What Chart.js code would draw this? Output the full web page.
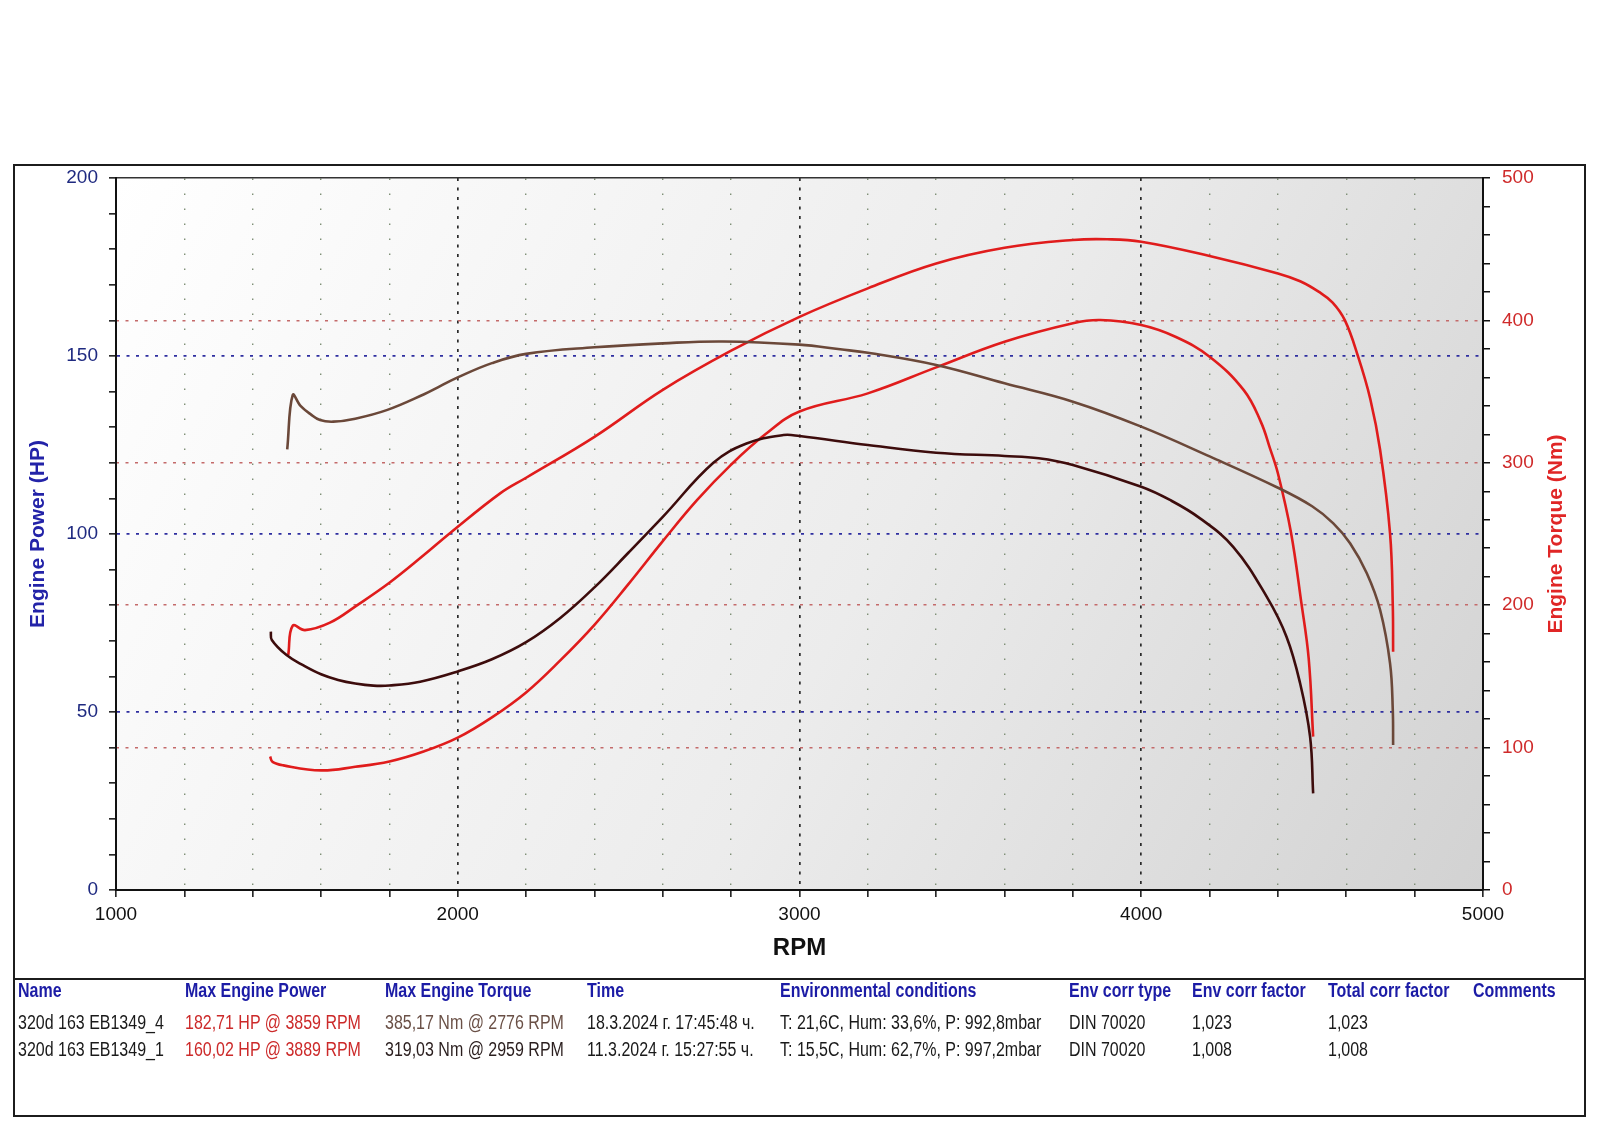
<!DOCTYPE html>
<html>
<head>
<meta charset="utf-8">
<script src="https://cdn.jsdelivr.net/npm/chart.js@4/dist/chart.umd.min.js"></script>
<style>
  html, body { margin: 0; padding: 0; background: #ffffff; }
  #wrap { position: relative; width: 1600px; height: 1131px; overflow: hidden; }
  #c { position: absolute; left: 0; top: 0; width: 1600px; height: 1131px; }
  #frame { position: absolute; left: 13px; top: 164px; width: 1569px; height: 949px; border: 2px solid #1c1c1c; pointer-events: none; }
  #divider { position: absolute; left: 13px; top: 978px; width: 1573px; height: 0; border-top: 2px solid #1c1c1c; }
  .cell { position: absolute; white-space: nowrap; font-family: "Liberation Sans", Arial, sans-serif; font-size: 19.5px; line-height: 22px; color: #1a1a1a; transform: scaleX(0.82); transform-origin: 0 50%; }
  .hdr { font-weight: bold; color: #1c1ca6; }
</style>
</head>
<body>
<div id="wrap">
  <canvas id="c" width="1600" height="1131"></canvas>
  <div id="frame"></div>
  <div id="divider"></div>
  <div id="table"></div>
</div>
<script>
// ---------- DATA ----------
// Run _4 : engine power (HP) vs RPM
const rpmPower4 = [1504, 1517, 1553, 1626, 1704, 1800, 1900, 1977, 2124, 2200, 2400, 2600, 2800, 3000, 3200, 3400, 3600, 3800, 3900, 4000, 4200, 4400, 4465, 4520, 4560, 4596, 4634, 4670, 4699, 4728, 4736, 4737];
const hpPower4  = [66.0, 74.2, 73.0, 75.1, 79.9, 86.3, 94.0, 100.2, 111.4, 115.8, 127.3, 140.5, 151.5, 161.0, 169.0, 176.0, 180.4, 182.6, 182.8, 182.1, 178.1, 173.2, 171.0, 168.0, 165.0, 160.0, 150.0, 138.0, 123.6, 100.2, 80.0, 66.9];
// Run _1 : engine power (HP) vs RPM
const rpmPower1 = [1451, 1458, 1490, 1600, 1700, 1800, 1900, 2000, 2100, 2200, 2300, 2400, 2500, 2600, 2700, 2800, 2900, 3000, 3200, 3400, 3600, 3800, 3880, 4000, 4100, 4200, 4300, 4350, 4377, 4400, 4438, 4468, 4490, 4503];
const hpPower1  = [37.5, 36.0, 35.0, 33.6, 34.6, 36.1, 38.9, 42.8, 48.5, 55.5, 64.5, 74.5, 86.0, 98.0, 109.5, 119.5, 128.0, 134.4, 139.5, 146.8, 154.0, 159.2, 160.1, 158.7, 155.4, 149.8, 140.4, 131.5, 124.0, 117.0, 100.5, 81.0, 65.0, 43.1];
// Run _4 : engine torque (Nm) vs RPM
const rpmTorque4 = [1501, 1517, 1540, 1570, 1597, 1636, 1700, 1792, 1900, 1950, 2000, 2100, 2200, 2400, 2600, 2776, 3000, 3119, 3200, 3400, 3600, 3800, 4000, 4200, 4400, 4500, 4562, 4611, 4660, 4699, 4728, 4736, 4737];
const nmTorque4  = [309.5, 347.6, 340.0, 334.0, 330.0, 328.9, 331.0, 337.0, 348.0, 354.0, 360.0, 370.0, 376.5, 381.1, 383.9, 385.2, 383.0, 379.7, 377.3, 368.7, 355.8, 342.9, 325.4, 304.5, 282.5, 269.5, 257.5, 243.5, 222.4, 196.6, 159.2, 126.4, 101.8];
// Run _1 : engine torque (Nm) vs RPM
const rpmTorque1 = [1453, 1456, 1499, 1550, 1600, 1650, 1700, 1753, 1800, 1890, 2000, 2100, 2200, 2300, 2400, 2500, 2600, 2748, 2845, 2953, 3000, 3200, 3400, 3600, 3700, 3800, 4000, 4084, 4172, 4269, 4367, 4425, 4465, 4494, 4503];
const nmTorque1  = [181.4, 175.6, 165.0, 157.5, 151.5, 147.5, 145.0, 143.5, 143.6, 146.3, 153.5, 162.0, 174.0, 191.0, 212.5, 237.0, 262.0, 300.0, 313.5, 319.5, 318.8, 312.5, 307.1, 304.8, 303.2, 298.5, 283.2, 273.9, 261.0, 241.0, 206.0, 177.9, 145.0, 107.7, 67.9];

// Axis ranges / ticks
const rpmMin = 1000, rpmMax = 5000, rpmStep = 200, rpmLabelStep = 1000;
const hpMin = 0, hpMax = 200, hpStep = 10, hpLabelStep = 50;
const nmMin = 0, nmMax = 500, nmStep = 20, nmLabelStep = 100;

// Table
const tableHeaders = ["Name", "Max Engine Power", "Max Engine Torque", "Time", "Environmental conditions", "Env corr type", "Env corr factor", "Total corr factor", "Comments"];
const runNames   = ["320d 163 EB1349_4", "320d 163 EB1349_1"];
const maxPower   = ["182,71 HP @ 3859 RPM", "160,02 HP @ 3889 RPM"];
const maxTorque  = ["385,17 Nm @ 2776 RPM", "319,03 Nm @ 2959 RPM"];
const runTimes   = ["18.3.2024 г. 17:45:48 ч.", "11.3.2024 г. 15:27:55 ч."];
const envConds   = ["T: 21,6C, Hum: 33,6%, P: 992,8mbar", "T: 15,5C, Hum: 62,7%, P: 997,2mbar"];
const envCorrType   = ["DIN 70020", "DIN 70020"];
const envCorrFactor = ["1,023", "1,008"];
const totalCorrFactor = ["1,023", "1,008"];
const comments   = ["", ""];

// ---------- TABLE (HTML text) ----------
const colX = [18, 185, 385, 587, 780, 1069, 1192, 1328, 1473];
const hdrY = 979, rowY = [1011, 1038];
const tableEl = document.getElementById('table');
function addCell(text, x, y, cls, color) {
  const d = document.createElement('div');
  d.className = 'cell' + (cls ? ' ' + cls : '');
  d.style.left = x + 'px'; d.style.top = y + 'px';
  if (color) d.style.color = color;
  d.textContent = text;
  tableEl.appendChild(d);
}
tableHeaders.forEach((h, i) => addCell(h, colX[i], hdrY, 'hdr'));
const torqueColors = ['#6a5046', '#2a1e1e'];
for (let r = 0; r < runNames.length; r++) {
  const row = [runNames[r], maxPower[r], maxTorque[r], runTimes[r], envConds[r], envCorrType[r], envCorrFactor[r], totalCorrFactor[r], comments[r]];
  row.forEach((t, i) => {
    let col = null;
    if (i === 1) col = '#cc2a2a';
    if (i === 2) col = torqueColors[r];
    addCell(t, colX[i], rowY[r], '', col);
  });
}

// ---------- CHART ----------
const toXY = (xs, ys) => xs.map((x, i) => ({ x: x, y: ys[i] }));
const TRANSP = 'rgba(0,0,0,0)';
const FONT = '"Liberation Sans", Arial, sans-serif';

const bgPlugin = {
  id: 'plotBg',
  beforeDraw(chart) {
    const a = chart.chartArea; const ctx = chart.ctx;
    const g = ctx.createLinearGradient(a.left, a.top, a.right, a.bottom);
    g.addColorStop(0, '#ffffff');
    g.addColorStop(0.55, '#ececec');
    g.addColorStop(1, '#d2d2d2');
    ctx.save(); ctx.fillStyle = g;
    ctx.fillRect(a.left, a.top, a.right - a.left, a.bottom - a.top);
    ctx.restore();
  }
};
const rightTitlePlugin = {
  id: 'rightTitle',
  afterDraw(chart) {
    const s = chart.scales.y2; const ctx = chart.ctx;
    ctx.save();
    ctx.translate(1556, (s.top + s.bottom) / 2);
    ctx.rotate(-Math.PI / 2);
    ctx.font = 'bold 21px ' + FONT;
    ctx.fillStyle = '#e02626';
    ctx.textAlign = 'center'; ctx.textBaseline = 'middle';
    ctx.fillText('Engine Torque (Nm)', 0, 0);
    ctx.restore();
  }
};

const lineDs = (label, data, color, axis) => ({
  label, data, borderColor: color, borderWidth: 2.6, pointRadius: 0,
  yAxisID: axis, tension: 0.4, fill: false
});

new Chart(document.getElementById('c'), {
  type: 'line',
  data: {
    datasets: [
      lineDs('Engine Torque 320d 163 EB1349_4', toXY(rpmTorque4, nmTorque4), '#6b4839', 'y2'),
      lineDs('Engine Torque 320d 163 EB1349_1', toXY(rpmTorque1, nmTorque1), '#3d0c0c', 'y2'),
      lineDs('Engine Power 320d 163 EB1349_4', toXY(rpmPower4, hpPower4), '#e01c1c', 'y'),
      lineDs('Engine Power 320d 163 EB1349_1', toXY(rpmPower1, hpPower1), '#e01c1c', 'y')
    ]
  },
  options: {
    responsive: false,
    animation: false,
    devicePixelRatio: 1,
    layout: { padding: { top: 178, bottom: 166, left: 0, right: 0 } },
    plugins: { legend: { display: false }, tooltip: { enabled: false } },
    scales: {
      x: {
        type: 'linear', position: 'bottom', min: rpmMin, max: rpmMax,
        afterFit(s) { s.height = 75; },
        ticks: {
          stepSize: rpmStep, autoSkip: false, maxRotation: 0, padding: 6,
          color: '#111111', font: { family: FONT, size: 19 },
          callback: v => (v % rpmLabelStep === 0 ? String(v) : '')
        },
        grid: {
          color: c => (c.tick && c.tick.value % rpmLabelStep === 0 && c.tick.value > rpmMin && c.tick.value < rpmMax) ? '#2a2a2a' : TRANSP,
          lineWidth: 1.7, tickColor: '#111111', tickLength: 7, tickWidth: 1.5
        },
        border: { display: true, color: '#111111', width: 2, dash: [3, 6.5] },
        title: { display: true, text: 'RPM', color: '#111111', font: { family: FONT, size: 24, weight: 'bold' }, padding: { top: 0, bottom: 2 } }
      },
      x2: {
        type: 'linear', position: 'top', min: rpmMin, max: rpmMax,
        afterFit(s) { s.height = 0; },
        ticks: { display: false, stepSize: rpmStep, autoSkip: false },
        grid: {
          color: c => (c.tick && c.tick.value % rpmLabelStep !== 0) ? '#7f9077' : TRANSP,
          lineWidth: 1.4, drawTicks: false
        },
        border: { display: true, color: '#333333', width: 1.5, dash: [1.5, 13.5] }
      },
      y: {
        type: 'linear', position: 'left', min: hpMin, max: hpMax,
        afterFit(s) { s.width = 116; },
        ticks: {
          stepSize: hpStep, autoSkip: false, padding: 11,
          color: '#1f2a80', font: { family: FONT, size: 19 },
          callback: v => (v % hpLabelStep === 0 ? String(v) : '')
        },
        grid: {
          color: c => (c.tick && c.tick.value % hpLabelStep === 0 && c.tick.value > hpMin && c.tick.value < hpMax) ? '#2e2ea0' : TRANSP,
          lineWidth: 1.7, tickColor: '#111111', tickLength: 7, tickWidth: 1.5
        },
        border: { display: true, color: '#111111', width: 2, dash: [3, 6.5] },
        title: { display: true, text: 'Engine Power (HP)', color: '#2323a8', font: { family: FONT, size: 21, weight: 'bold' }, padding: { top: 26 } }
      },
      y2: {
        type: 'linear', position: 'right', min: nmMin, max: nmMax,
        afterFit(s) { s.width = 117; },
        ticks: {
          stepSize: nmStep, autoSkip: false, padding: 12,
          color: '#cf2a2a', font: { family: FONT, size: 19 },
          callback: v => (v % nmLabelStep === 0 ? String(v) : '')
        },
        grid: {
          color: c => (c.tick && c.tick.value % nmLabelStep === 0 && c.tick.value > nmMin && c.tick.value < nmMax) ? '#c46a6a' : TRANSP,
          lineWidth: 1.5, tickColor: '#111111', tickLength: 7, tickWidth: 1.5
        },
        border: { display: true, color: '#111111', width: 2, dash: [3, 6.5] }
      }
    }
  },
  plugins: [bgPlugin, rightTitlePlugin]
});
</script>
</body>
</html>
